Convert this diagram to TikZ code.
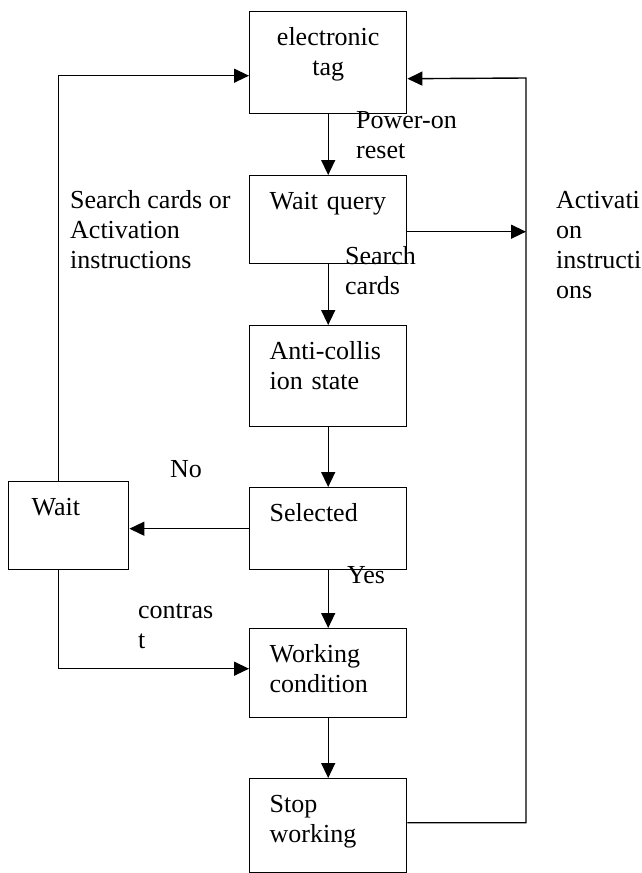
\documentclass[tikz,border=0pt]{standalone}
\usepackage{fontspec}
\setmainfont{Liberation Serif}
\usetikzlibrary{arrows.meta}

\tikzset{
  stbox/.style={draw, line width=1.4pt, anchor=north west, inner xsep=20pt, inner ysep=0pt,
    text width=117pt, align=left, text height=34pt, text depth=#1},
  lbl/.style={anchor=base west, inner sep=0pt, align=left},
  flow/.style={line width=1.4pt, -{Triangle[length=15pt,width=14pt]}},
}

\begin{document}
\begin{tikzpicture}[x=1pt, y=-1pt, every node/.style={font=\fontsize{26}{30}\selectfont}]
  \useasboundingbox (0,0) rectangle (641,873);

  % States, top to bottom
  \node[stbox=68pt, align=center] (tag) at (249,11) {electronic\\tag};
  \node[stbox=54pt] (wq) at (249,175) {Wait~query};
  \node[stbox=67pt] (anti) at (249,325) {Anti-collis\\ion state};
  \node[stbox=48pt] (sel) at (249,487) {Selected};
  \node[stbox=55pt] (work) at (249,628) {Working\\condition};
  \node[stbox=60pt] (stop) at (249,778) {Stop\\working};
  % Side state
  \node[stbox=54pt, inner xsep=23pt, text width=74pt] (wait) at (8,481) {Wait};

  % Labels (anchored on the last line)
  \node[lbl] (pwr) at (356,158) {Power-on\\reset};
  \node[lbl] (srch) at (345,294) {Search\\cards};
  \node[lbl] (scact) at (70,268) {Search cards or\\Activation\\instructions};
  \node[lbl] (act) at (556,298) {Activati\\on\\instructi\\ons};
  \node[lbl] (no) at (170,477) {No};
  \node[lbl] (yes) at (347,583) {Yes};
  \node[lbl] (ctr) at (138,648) {contras\\t};

  % Right rail
  \coordinate (rtop) at (526,78);

  % Main flow
  \draw[flow] (tag) -- (wq);
  \draw[flow] (wq) -- (anti);
  \draw[flow] (anti) -- (sel);
  \draw[flow] (sel) -- (work);
  \draw[flow] (work) -- (stop);

  % Loops
  \draw[flow] (sel.west) -- (sel.west -| wait.east);
  \draw[flow] ([xshift=-10pt]wait.north) |- ([yshift=-13pt]tag.west);
  \draw[flow] ([xshift=-10pt]wait.south) |- ([yshift=4.5pt]work.west);
  \draw[flow] ([yshift=-12pt]wq.east) -- ([yshift=-12pt]wq.east -| rtop);
  \draw[flow] ([yshift=3pt]stop.east) -| (rtop) -- ([yshift=-16pt]tag.east);
\end{tikzpicture}
\end{document}
